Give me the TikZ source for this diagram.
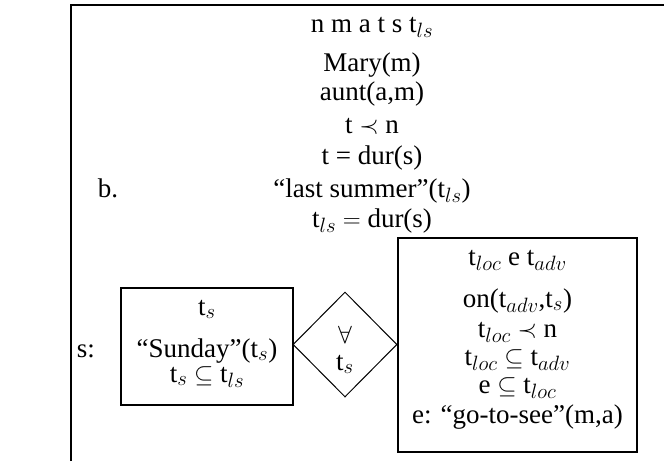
\documentclass[tikz,border=0pt]{standalone}
\usepackage{fontspec}
\setmainfont{Liberation Serif}
\DeclareMathSizes{27}{27}{21}{16}
\usetikzlibrary{shapes.geometric}
\begin{document}
\begin{tikzpicture}[x=1pt,y=-1pt,
  txt/.style={inner sep=0pt,anchor=base,font=\fontsize{27}{30}\selectfont},
  drsbox/.style={draw,line width=2pt,inner sep=0pt},
  quant/.style={draw,shape=diamond,line width=1pt,inner sep=0pt,minimum width=104pt,minimum height=105pt}]
\useasboundingbox (0,0) rectangle (664,461);
% outer box (cut by the page edge)
\coordinate (obl) at (71,461);
\coordinate (otl) at (71,5);
\coordinate (otr) at (664,5);
\draw[line width=2pt] (obl) -- (otl) -- (otr);
\node[txt] (lblb) at (108,197) {b.};
\node[txt] (hdr) at (372,32) {n m a t s t$_{ls}$};
\node[txt] (c1) at (372,71.5) {Mary(m)};
\node[txt] (c2) at (372,100) {aunt(a,m)};
\node[txt] (c3) at (372,133) {t $\prec$ n};
\node[txt] (c4) at (372,164.5) {t = dur(s)};
\node[txt] (c5) at (372,197) {``last summer''(t$_{ls}$)};
\node[txt] (c6) at (372,227) {t$_{ls}$ $=$ dur(s)};
% antecedent box
\node[drsbox,minimum width=172pt,minimum height=117pt] (lbox) at (207,346.5) {};
\node[txt] (lblS) at (86,357) {s:};
\node[txt] (l0) at (207,315) {t$_s$};
\node[txt] (l1) at (207,357) {``Sunday''(t$_s$)};
\node[txt] (l2) at (207,382) {t$_s$ $\subseteq$ t$_{ls}$};
% quantifier diamond
\node[quant] (dia) at (345,344.5) {};
\node[txt] (d1) at (345,343) {$\forall$};
\node[txt] (d2) at (345,370) {t$_s$};
% consequent box
\node[drsbox,minimum width=239pt,minimum height=214pt] (rbox) at (517.5,345) {};
\node[txt] (r0) at (517.5,265) {t$_{loc}$ e t$_{adv}$};
\node[txt] (r1) at (517.5,307) {on(t$_{adv}$,t$_s$)};
\node[txt] (r2) at (517.5,337) {t$_{loc}$ $\prec$ n};
\node[txt] (r3) at (517.5,365) {t$_{loc}$ $\subseteq$ t$_{adv}$};
\node[txt] (r4) at (517.5,393) {e $\subseteq$ t$_{loc}$};
\node[txt] (r5) at (517.5,423) {e: ``go-to-see''(m,a)};
\end{tikzpicture}
\end{document}
